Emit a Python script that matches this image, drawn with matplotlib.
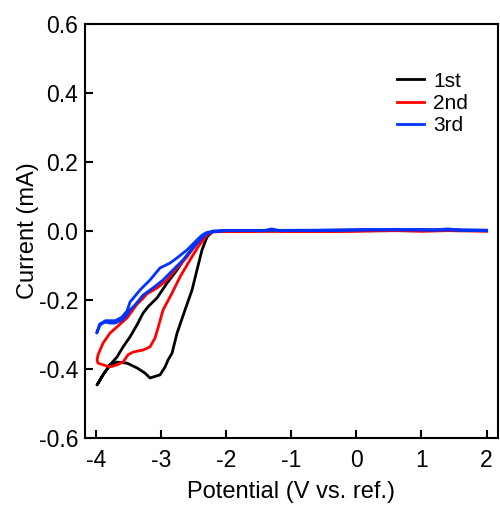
import matplotlib
matplotlib.use("Agg")
import matplotlib.pyplot as plt

plt.rcParams['font.family'] = ['Liberation Sans', 'DejaVu Sans']

# 1st cycle: sweep 2 V -> -4 V, then back -4 V -> 2 V
pot_1st = [2.0, 1.4, 1.0, 0.6, 0.0, -1.0, -1.3, -2.0, -2.2, -2.292, -2.369, -2.446, -2.522, -2.63, -2.752,
           -2.829, -2.89, -2.936, -3.013, -3.167, -3.244, -3.366, -3.52, -3.673, -3.781, -3.888, -3.98,
           -3.888, -3.781, -3.673, -3.581, -3.474, -3.366, -3.274, -3.19, -3.059, -2.906, -2.752, -2.599,
           -2.446, -2.292, -2.22, -2.0, -1.0, 0.0, 1.0, 2.0]
cur_1st = [0.001, 0.002, 0.001, 0.002, 0.001, 0.001, 0.002, 0.0, -0.001, -0.017, -0.055, -0.113, -0.171, -0.229, -0.296,
           -0.354, -0.374, -0.394, -0.417, -0.426, -0.412, -0.397, -0.383, -0.380, -0.388, -0.417, -0.446,
           -0.417, -0.388, -0.365, -0.336, -0.307, -0.272, -0.238, -0.218, -0.194, -0.151, -0.113, -0.070,
           -0.035, -0.012, -0.002, 0.0, 0.0, 0.001, 0.001, 0.001]

# 2nd cycle
pot_2nd = [2.0, 1.4, 1.0, 0.6, 0.0, -1.0, -1.3, -2.0, -2.2, -2.292, -2.43, -2.553, -2.706, -2.829, -2.967,
           -3.044, -3.09, -3.167, -3.274, -3.428, -3.505, -3.581, -3.673, -3.781, -3.888, -3.965, -3.98,
           -3.965, -3.888, -3.781, -3.673, -3.52, -3.366, -3.274, -3.213, -3.059, -2.906, -2.752, -2.599,
           -2.446, -2.323, -2.25, -2.0, -1.0, 0.0, 1.0, 2.0]
cur_2nd = [-0.001, 0.001, -0.001, 0.001, -0.001, -0.001, 0.002, -0.002, -0.002, -0.012, -0.046, -0.084, -0.133, -0.180, -0.229,
           -0.281, -0.310, -0.336, -0.345, -0.351, -0.359, -0.380, -0.388, -0.394, -0.388, -0.383, -0.374,
           -0.359, -0.325, -0.296, -0.278, -0.252, -0.212, -0.195, -0.182, -0.165, -0.142, -0.107, -0.075,
           -0.035, -0.012, -0.003, -0.001, -0.001, 0.001, 0.002, 0.002]

# 3rd cycle
pot_3rd = [2.0, 1.6, 1.4, 1.2, 0.8, 0.6, 0.3, 0.0, -0.5, -1.0, -1.2, -1.3, -1.4, -2.0, -2.2, -2.323, -2.40,
           -2.507, -2.66, -2.814, -2.967, -3.121, -3.274, -3.40, -3.474, -3.52, -3.596, -3.704, -3.781, -3.857,
           -3.934, -3.985,
           -3.94, -3.85, -3.70, -3.60, -3.52, -3.474, -3.32, -3.167, -3.013, -2.86, -2.752, -2.599, -2.446,
           -2.369, -2.292, -2.0, -1.0, 0.0, 1.0, 2.0]
cur_3rd = [0.002, 0.003, 0.006, 0.003, 0.004, 0.005, 0.004, 0.003, 0.002, 0.001, 0.002, 0.006, 0.002, 0.001, 0.0, -0.012, -0.026,
           -0.049, -0.084, -0.113, -0.142, -0.165, -0.186, -0.215, -0.229, -0.243, -0.258, -0.267, -0.267, -0.264,
           -0.272, -0.296,
           -0.270, -0.260, -0.260, -0.250, -0.232, -0.206, -0.171, -0.142, -0.107, -0.093, -0.078, -0.055, -0.026,
           -0.012, -0.004, 0.001, 0.002, 0.003, 0.003, 0.002]

labels = ['1st', '2nd', '3rd']
colors = ['#000000', '#ff0000', '#0033ff']

fig = plt.figure(figsize=(5.0, 5.05), dpi=100)
ax = fig.add_axes([0.17, 0.1327, 0.8254, 0.8198])

for p, c, lab, col in zip([pot_1st, pot_2nd, pot_3rd], [cur_1st, cur_2nd, cur_3rd], labels, colors):
    ax.plot(p, c, color=col, lw=2.0, label=lab, solid_joinstyle='round')

ax.set_xlim(-4.165, 2.17)
ax.set_ylim(-0.6, 0.6)
ax.set_xticks([-4, -3, -2, -1, 0, 1, 2])
ax.set_xticklabels(['-4', '-3', '-2', '-1', '0', '1', '2'])
ax.set_yticks([-0.6, -0.4, -0.2, 0.0, 0.2, 0.4, 0.6])
ax.set_yticklabels(['-0.6', '-0.4', '-0.2', '0.0', '0.2', '0.4', '0.6'])
ax.tick_params(direction='in', length=6, width=1.5, labelsize=16.5, pad=5)
ax.tick_params(axis='x', pad=8)
for s in ax.spines.values():
    s.set_linewidth(1.5)
ax.set_xlabel('Potential (V vs. ref.)', fontsize=17, labelpad=6.5)
ax.set_ylabel('Current (mA)', fontsize=17, labelpad=-0.5)

leg = ax.legend(loc='upper left', bbox_to_anchor=(0.711, 0.93), frameon=False, fontsize=15,
                handlelength=1.28, handletextpad=0.45, labelspacing=0.15)

fig.savefig('out.png', dpi=100)
